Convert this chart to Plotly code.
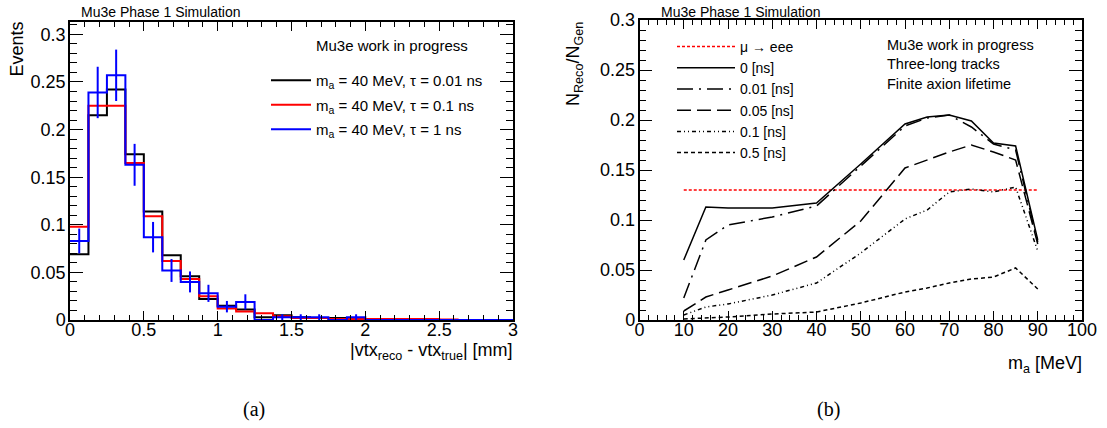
import numpy as np
import plotly.graph_objects as go

# ---------------- data: panel (a) ----------------
bin_edges = [round(0.125 * i, 3) for i in range(25)]  # 0 .. 3 mm
h_tau001 = [0.069, 0.215, 0.242, 0.174, 0.114, 0.068, 0.046, 0.022, 0.015, 0.011, 0.003, 0.005,
            0.003, 0.002, 0.002, 0.001, 0.001, 0.0, 0.0, 0.0, 0.0, 0.0, 0.0, 0.0]
h_tau01 = [0.098, 0.225, 0.225, 0.165, 0.109, 0.062, 0.043, 0.025, 0.012, 0.009, 0.007, 0.004,
           0.002, 0.002, 0.001, 0.001, 0.001, 0.001, 0.001, 0.001, 0.0005, 0.0, 0.0, 0.0]
h_tau1 = [0.083, 0.239, 0.257, 0.163, 0.087, 0.052, 0.040, 0.028, 0.014, 0.019, 0.0, 0.003,
          0.003, 0.003, 0.0, 0.003, 0.0, 0.0, 0.0, 0.0, 0.0, 0.0, 0.0, 0.0]
h_tau1_err = [0.013, 0.027, 0.027, 0.022, 0.016, 0.012, 0.011, 0.009, 0.006, 0.008, 0.0, 0.003,
              0.003, 0.003, 0.0, 0.003, 0.0, 0.0, 0.0, 0.0, 0.0, 0.0, 0.0, 0.0]
labels_a = ["m<sub>a</sub> = 40 MeV, τ = 0.01 ns",
            "m<sub>a</sub> = 40 MeV, τ = 0.1 ns",
            "m<sub>a</sub> = 40 MeV, τ = 1 ns"]

# ---------------- data: panel (b) ----------------
mass = [10, 15, 20, 30, 40, 50, 60, 65, 70, 75, 80, 85, 90]
eff_0 = [0.060, 0.113, 0.112, 0.112, 0.117, 0.156, 0.196, 0.203, 0.205, 0.199, 0.177, 0.174, 0.080]
eff_001 = [0.022, 0.080, 0.095, 0.103, 0.114, 0.154, 0.194, 0.202, 0.205, 0.193, 0.176, 0.170, 0.078]
eff_005 = [0.009, 0.023, 0.030, 0.044, 0.063, 0.099, 0.152, 0.160, 0.168, 0.175, 0.168, 0.160, 0.076]
eff_01 = [0.005, 0.013, 0.016, 0.025, 0.037, 0.067, 0.101, 0.110, 0.128, 0.131, 0.128, 0.133, 0.069]
eff_05 = [0.001, 0.002, 0.003, 0.006, 0.008, 0.017, 0.028, 0.032, 0.037, 0.041, 0.043, 0.052, 0.031]
mueee_mass = [10, 90]
mueee_eff = [0.13, 0.13]

W, H = 1107, 428
def px(x):
    return x / W
def py(y):
    return 1 - y / H

FONT = "Liberation Sans, Arial, sans-serif"
fig = go.Figure()

# ---- panel (a) histograms ----
def step_y(v):
    return list(v) + [v[-1]]

colors_a = ["black", "#ff0000", "#0000ff"]
for i, vals in enumerate([h_tau001, h_tau01, h_tau1]):
    fig.add_trace(go.Scatter(x=bin_edges, y=step_y(vals), mode="lines", line_shape="hv",
                             line=dict(color=colors_a[i], width=2), name=labels_a[i],
                             legendgroup="a%d" % i,
                             xaxis="x", yaxis="y", legend="legend"))
centers = [(bin_edges[i] + bin_edges[i + 1]) / 2 for i in range(len(h_tau1))]
bx = [c for c, v in zip(centers, h_tau1) if v > 0]
by = [v for v in h_tau1 if v > 0]
be = [e for e, v in zip(h_tau1_err, h_tau1) if v > 0]
fig.add_trace(go.Scatter(x=bx, y=by, mode="markers", marker=dict(size=1, color="#0000ff"),
                         error_y=dict(type="data", array=be, color="#0000ff", thickness=2, width=0),
                         showlegend=False, legendgroup="a2", xaxis="x", yaxis="y", hoverinfo="skip"))

# ---- panel (b) curves ----
fig.add_trace(go.Scatter(x=mueee_mass, y=mueee_eff, mode="lines",
                         line=dict(color="#ff0000", width=1.5, dash="3px,2px"),
                         name="μ → eee", xaxis="x2", yaxis="y2", legend="legend2"))
styles_b = [
    (eff_0, "0 [ns]", "solid"),
    (eff_001, "0.01 [ns]", "16px,6px,2px,6px"),
    (eff_005, "0.05 [ns]", "14px,6px"),
    (eff_01, "0.1 [ns]", "4px,3px,1px,3px,1px,3px"),
    (eff_05, "0.5 [ns]", "4px,3px"),
]
for vals, name, dash in styles_b:
    fig.add_trace(go.Scatter(x=mass, y=vals, mode="lines",
                             line=dict(color="black", width=1.5, dash=dash),
                             name=name, xaxis="x2", yaxis="y2", legend="legend2"))

# ---- axes ----
def axis(domain, rng, dtick, minor_dtick, ticklen, minorlen, anchor, standoff):
    return dict(domain=domain, range=rng, dtick=dtick, tick0=0, ticks="inside", ticklen=ticklen,
                tickwidth=1, tickcolor="black", showline=True, linecolor="black", linewidth=1.5,
                mirror="allticks", showgrid=False, zeroline=False, anchor=anchor,
                automargin=False, ticklabelstandoff=standoff,
                tickfont=dict(family=FONT, size=18, color="black"),
                minor=dict(dtick=minor_dtick, tick0=0, ticks="inside", ticklen=minorlen,
                           tickcolor="black", tickwidth=1, showgrid=False))

fig.update_layout(
    width=W, height=H, margin=dict(l=0, r=0, t=0, b=0, autoexpand=False),
    paper_bgcolor="white", plot_bgcolor="white",
    xaxis=axis([px(70), px(513)], [0, 3], 0.5, 0.1, 9, 5, "y", -7),
    yaxis=axis([py(320), py(22)], [0, 0.313], 0.05, 0.01, 13, 7, "x", -1),
    xaxis2=axis([px(639.5), px(1082)], [0, 100], 10, 2, 9, 5, "y2", -7),
    yaxis2=axis([py(320), py(20)], [0, 0.3], 0.05, 0.01, 13, 7, "x2", -1),
    legend=dict(x=px(266), y=py(64), xanchor="left", yanchor="top", bgcolor="rgba(0,0,0,0)",
                font=dict(family=FONT, size=15, color="black"), itemwidth=40, tracegroupgap=2),
    legend2=dict(x=px(672), y=py(31), xanchor="left", yanchor="top", bgcolor="rgba(0,0,0,0)",
                 font=dict(family=FONT, size=14, color="black"), itemwidth=58, tracegroupgap=0),
)

ann = []
def text(x, y, s, size=15, xanchor="left", yanchor="middle", angle=0, family=FONT):
    ann.append(dict(x=px(x), y=py(y), xref="paper", yref="paper", text=s, showarrow=False,
                    xanchor=xanchor, yanchor=yanchor, textangle=angle,
                    font=dict(family=family, size=size, color="black")))

text(79, 12, "Mu3e Phase 1 Simulation", size=14)
text(659, 12, "Mu3e Phase 1 Simulation", size=14)
text(314, 45, "Mu3e work in progress", size=15)
text(885, 45, "Mu3e work in progress", size=14.5)
text(885, 64.5, "Three-long tracks", size=14.5)
text(885, 84, "Finite axion lifetime", size=14.5)
text(16, 20, "Events", size=18, xanchor="center", yanchor="top", angle=-90)
text(574, 20, "N<sub>Reco</sub>/N<sub>Gen</sub>", size=18, xanchor="center", yanchor="top", angle=-90)
text(515, 338, "|vtx<sub>reco</sub> - vtx<sub>true</sub>| [mm]", size=18, xanchor="right", yanchor="top")
text(1084, 351, "m<sub>a</sub> [MeV]", size=18, xanchor="right", yanchor="top")
text(254, 409, "(a)", size=20, xanchor="center", family="Liberation Serif, serif")
text(828, 409, "(b)", size=20, xanchor="center", family="Liberation Serif, serif")
fig.update_layout(annotations=ann)

fig.write_html("out.html", config={"displayModeBar": False},
               post_script="document.body.style.margin='0px';document.body.style.padding='0px';"
                           "document.body.style.overflow='hidden';"
                           "document.documentElement.style.overflow='hidden';")
